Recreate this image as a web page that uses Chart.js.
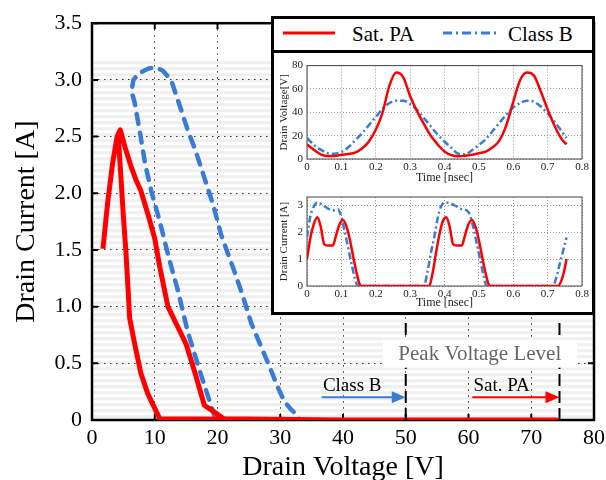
<!DOCTYPE html>
<html>
<head>
<meta charset="utf-8">
<script src="https://cdn.jsdelivr.net/npm/chart.js@4.4.1/dist/chart.umd.min.js"></script>
<style>
html, body { margin: 0; padding: 0; background: #fff; }
#wrap { position: relative; width: 606px; height: 480px; overflow: hidden; font-family: "Liberation Serif", serif; }
#main { position: absolute; left: 0; top: 0; }
#inset { position: absolute; left: 271px; top: 16px; width: 324px; height: 299px; box-sizing: border-box; border: 3px solid #000; background: #fff; }
#divider { position: absolute; left: 0; top: 31px; width: 100%; height: 3px; background: #000; }
.lg { position: absolute; top: 2px; font-size: 21px; line-height: 26px; color: #000; }
#legendLines { position: absolute; left: 0; top: 0; }
#vChart { position: absolute; left: 1px; top: 36px; }
#iChart { position: absolute; left: 1px; top: 166px; }
</style>
</head>
<body>
<div id="wrap">
  <canvas id="main" width="606" height="480"></canvas>
  <div id="inset">
    <svg id="legendLines" width="318" height="30">
      <line x1="9" y1="14" x2="61" y2="14" stroke="#ff0000" stroke-width="3"/>
      <line x1="169" y1="14" x2="223" y2="14" stroke="#3a7bd5" stroke-width="3" stroke-dasharray="9,4,2,4"/>
    </svg>
    <span class="lg" style="left:78px">Sat. PA</span>
    <span class="lg" style="left:234px">Class B</span>
    <div id="divider"></div>
    <canvas id="vChart" width="318" height="130"></canvas>
    <canvas id="iChart" width="318" height="127"></canvas>
  </div>
</div>
<script>
// main plot: dynamic load lines (drain current vs drain voltage)
var satV = [1.75, 2.5, 3.3, 4.0, 4.5, 5.3, 6.2, 7.0, 7.8, 9.0, 10.0, 10.8, 12.1, 13.5, 15.0, 16.5, 17.9, 19.5, 21.0, 40, 74.0, 40, 10.8, 8.9, 7.8, 6.8, 6.0, 5.7, 5.4, 5.0, 4.6, 4.2];
var satI = [1.51, 1.92, 2.27, 2.5, 2.56, 2.4, 2.24, 2.12, 2.02, 1.8, 1.6, 1.35, 1.0, 0.84, 0.67, 0.4, 0.13, 0.07, 0.01, 0, 0, 0, 0.01, 0.23, 0.41, 0.67, 0.9, 1.2, 1.49, 1.8, 2.15, 2.5];
var classBV = [19.6, 17.3, 15.2, 13.7, 12.3, 10.8, 9.5, 8.5, 7.6, 6.8, 6.3, 6.6, 7.5, 9.0, 10.2, 11.3, 12.6, 14.0, 15.3, 16.6, 18.0, 19.3, 20.6, 22.5, 24.0, 25.4, 27.0, 28.3, 29.6, 30.6, 31.6, 32.5, 33.2];
var classBI = [0.02, 0.41, 0.79, 1.14, 1.42, 1.75, 2.01, 2.25, 2.55, 2.8, 2.9, 3.0, 3.06, 3.1, 3.11, 3.08, 3.0, 2.77, 2.55, 2.36, 2.12, 1.9, 1.63, 1.34, 1.1, 0.85, 0.64, 0.47, 0.29, 0.17, 0.1, 0.05, 0.0];

var peakVoltage = [50, 74.5];   // Class B, Sat. PA

// inset: drain voltage vs time
var voltTime = [0, 0.02, 0.04, 0.06, 0.08, 0.10, 0.12, 0.14, 0.16, 0.18, 0.20, 0.22, 0.24, 0.26, 0.28, 0.30, 0.32, 0.34, 0.36, 0.38, 0.40, 0.42, 0.44, 0.46, 0.48, 0.50, 0.52, 0.54, 0.56, 0.58, 0.60, 0.62, 0.64, 0.66, 0.68, 0.70, 0.72, 0.74, 0.755];
var satVoltage = [12.5, 8, 4, 2.5, 2.5, 3.6, 4.3, 5.5, 9, 15, 25, 40, 63, 74, 70, 54, 41, 30, 20, 12.5, 6.4, 3.3, 2.3, 2.8, 3.6, 5, 6.4, 10, 16, 29, 49, 67.5, 74, 71.5, 58, 42.5, 28.5, 17.5, 12.5];
var classBVoltage = [18, 12, 8, 5, 4.5, 6, 10, 16, 22, 29, 36, 43, 48, 50, 50, 47, 42, 35, 28, 21, 15, 9.5, 4.5, 4, 7.5, 12, 17, 24, 31, 38, 44, 48, 50, 49, 45, 39, 32, 24, 18];

// inset: drain current vs time
var satCurTime = [0, 0.01, 0.02, 0.03, 0.04, 0.05, 0.06, 0.075, 0.085, 0.095, 0.105, 0.115, 0.125, 0.135, 0.145, 0.152, 0.158, 0.355, 0.365, 0.375, 0.385, 0.395, 0.405, 0.415, 0.425, 0.435, 0.45, 0.46, 0.47, 0.48, 0.49, 0.5, 0.51, 0.52, 0.527, 0.533, 0.73, 0.74, 0.748, 0.755];
var satCurrent = [1.0, 1.8, 2.3, 2.55, 2.2, 1.55, 1.5, 1.5, 1.9, 2.3, 2.45, 2.2, 1.7, 1.05, 0.45, 0.1, 0, 0, 0.45, 1.2, 1.9, 2.4, 2.55, 2.2, 1.55, 1.5, 1.5, 1.9, 2.3, 2.45, 2.2, 1.7, 1.05, 0.45, 0.1, 0, 0, 0.2, 0.55, 1.0];
var classBCurTime = [0, 0.01, 0.02, 0.03, 0.045, 0.06, 0.075, 0.09, 0.1, 0.11, 0.12, 0.13, 0.14, 0.148, 0.34, 0.35, 0.36, 0.37, 0.38, 0.39, 0.405, 0.42, 0.435, 0.45, 0.465, 0.475, 0.485, 0.495, 0.505, 0.515, 0.522, 0.715, 0.725, 0.735, 0.745, 0.755];
var classBCurrent = [1.8, 2.6, 2.95, 3.1, 3.0, 2.88, 2.8, 2.85, 2.55, 2.0, 1.4, 0.8, 0.25, 0, 0, 0.5, 1.2, 1.8, 2.5, 2.95, 3.1, 3.05, 2.95, 2.85, 2.8, 2.6, 2.1, 1.5, 0.9, 0.3, 0, 0, 0.3, 0.8, 1.3, 1.8];

var RED = '#ff0000';
var BLUE = '#3a7bd5';
var SERIF = '"Liberation Serif", "Times New Roman", serif';

function pts(xs, ys) {
    return xs.map(function (x, i) { return { x: x, y: ys[i] }; });
}

// keep the plot box where we want it, no extra room for edge labels
function fixX(h) {
    return function (s) { s.height = h; s.paddingLeft = 0; s.paddingRight = 0; };
}

function framePlugin(lw, color, tickLen) {
    return {
        id: 'frame',
        beforeDatasetsDraw: function (chart) {
            var ctx = chart.ctx, a = chart.chartArea, sx = chart.scales.x, sy = chart.scales.y;
            ctx.save();
            ctx.strokeStyle = color;
            ctx.lineWidth = lw;
            ctx.strokeRect(a.left, a.top, a.right - a.left, a.bottom - a.top);
            if (tickLen) {
                ctx.lineWidth = Math.max(1, lw - 0.5);
                ctx.beginPath();
                sx.ticks.forEach(function (t) {
                    var px = sx.getPixelForValue(t.value);
                    ctx.moveTo(px, a.bottom); ctx.lineTo(px, a.bottom - tickLen);
                    ctx.moveTo(px, a.top); ctx.lineTo(px, a.top + tickLen);
                });
                sy.ticks.forEach(function (t) {
                    var py = sy.getPixelForValue(t.value);
                    ctx.moveTo(a.left, py); ctx.lineTo(a.left + tickLen, py);
                    ctx.moveTo(a.right, py); ctx.lineTo(a.right - tickLen, py);
                });
                ctx.stroke();
            }
            ctx.restore();
        }
    };
}

// faint striped background of the main plot
var stripes = {
    id: 'stripes',
    beforeDraw: function (chart) {
        var ctx = chart.ctx, a = chart.chartArea;
        ctx.save();
        ctx.fillStyle = '#efefef';
        for (var y = a.top + 38; y < a.bottom; y += 6) {
            ctx.fillRect(a.left, y, a.right - a.left, 3);
        }
        ctx.restore();
    }
};

function arrow(ctx, x1, x2, y, color) {
    ctx.strokeStyle = color;
    ctx.fillStyle = color;
    ctx.lineWidth = 2;
    ctx.beginPath();
    ctx.moveTo(x1, y); ctx.lineTo(x2 - 12, y);
    ctx.stroke();
    ctx.beginPath();
    ctx.moveTo(x2, y); ctx.lineTo(x2 - 14, y - 6); ctx.lineTo(x2 - 14, y + 6);
    ctx.closePath();
    ctx.fill();
}

var peakNotes = {
    id: 'peakNotes',
    afterDatasetsDraw: function (chart) {
        var ctx = chart.ctx, sx = chart.scales.x, sy = chart.scales.y;
        ctx.save();
        // peak voltage marks
        ctx.strokeStyle = '#000';
        ctx.lineWidth = 2;
        ctx.setLineDash([12, 5]);
        peakVoltage.forEach(function (v) {
            var px = sx.getPixelForValue(v);
            ctx.beginPath();
            ctx.moveTo(px, sy.getPixelForValue(0));
            ctx.lineTo(px, sy.getPixelForValue(0.9));
            ctx.stroke();
        });
        ctx.setLineDash([]);

        // label box
        ctx.fillStyle = '#fff';
        var cx = sx.getPixelForValue(61.8), cy = sy.getPixelForValue(0.585);
        ctx.fillRect(cx - 97, cy - 14, 194, 28);
        ctx.font = '21px ' + SERIF;
        ctx.fillStyle = '#666';
        ctx.textAlign = 'center';
        ctx.textBaseline = 'middle';
        ctx.fillText('Peak Voltage Level', cx, cy + 1);

        // arrows
        var ay = sy.getPixelForValue(0.2);
        arrow(ctx, sx.getPixelForValue(36.6), sx.getPixelForValue(peakVoltage[0]), ay, BLUE);
        arrow(ctx, sx.getPixelForValue(60.6), sx.getPixelForValue(peakVoltage[1]), ay, RED);
        ctx.font = '19px ' + SERIF;
        ctx.fillStyle = '#000';
        ctx.textAlign = 'left';
        ctx.textBaseline = 'middle';
        ctx.fillText('Class B', sx.getPixelForValue(36.8), sy.getPixelForValue(0.3));
        ctx.fillText('Sat. PA', sx.getPixelForValue(60.8), sy.getPixelForValue(0.3));
        ctx.restore();
    }
};

new Chart(document.getElementById('main').getContext('2d'), {
    type: 'scatter',
    data: {
        datasets: [
            {
                label: 'Sat. PA',
                data: pts(satV, satI),
                showLine: true,
                borderColor: RED,
                borderWidth: 5,
                borderJoinStyle: 'round',
                pointRadius: 0,
                tension: 0
            },
            {
                label: 'Class B',
                data: pts(classBV, classBI),
                showLine: true,
                borderColor: BLUE,
                borderWidth: 4.5,
                borderDash: [10, 9],
                borderCapStyle: 'round',
                borderJoinStyle: 'round',
                pointRadius: 0,
                tension: 0
            }
        ]
    },
    options: {
        responsive: false,
        animation: false,
        layout: { padding: { top: 18, right: 12, left: 0, bottom: 0 } },
        plugins: { legend: { display: false }, tooltip: { enabled: false } },
        scales: {
            x: {
                type: 'linear',
                min: 0,
                max: 80,
                afterFit: fixX(60),
                ticks: { stepSize: 10, padding: 5, color: '#000', font: { family: SERIF, size: 22 } },
                grid: { color: '#333', lineWidth: 1, drawTicks: false },
                border: { display: false, dash: [1.5, 4.5] },
                title: { display: true, text: 'Drain Voltage [V]', color: '#000', font: { family: SERIF, size: 28 }, padding: { top: 0, bottom: -4 } }
            },
            y: {
                min: 0,
                max: 3.5,
                afterFit: function (s) { s.width = 92; },
                ticks: {
                    stepSize: 0.5,
                    padding: 10,
                    color: '#000',
                    font: { family: SERIF, size: 22 },
                    callback: function (v) { return v === 0 ? '0' : v.toFixed(1); }
                },
                grid: { color: '#333', lineWidth: 1, drawTicks: false },
                border: { display: false, dash: [1.5, 4.5] },
                title: { display: true, text: 'Drain Current [A]', color: '#000', font: { family: SERIF, size: 28 }, padding: { top: 10, bottom: 0 } }
            }
        }
    },
    plugins: [stripes, framePlugin(2.5, '#000', 6), peakNotes]
});

function insetChart(id, satData, classBData, yMax, yStep, yTitle, padTop, titlePad) {
    return new Chart(document.getElementById(id).getContext('2d'), {
        type: 'scatter',
        data: {
            datasets: [
                {
                    label: 'Sat. PA',
                    data: satData,
                    showLine: true,
                    borderColor: RED,
                    borderWidth: 2.5,
                    pointRadius: 0,
                    cubicInterpolationMode: 'monotone'
                },
                {
                    label: 'Class B',
                    data: classBData,
                    showLine: true,
                    borderColor: BLUE,
                    borderWidth: 2.5,
                    borderDash: [7, 3, 2, 3],
                    pointRadius: 0,
                    cubicInterpolationMode: 'monotone'
                }
            ]
        },
        options: {
            responsive: false,
            animation: false,
            layout: { padding: { top: padTop, right: 11, left: 0, bottom: 0 } },
            plugins: { legend: { display: false }, tooltip: { enabled: false } },
            scales: {
                x: {
                    type: 'linear',
                    min: 0,
                    max: 0.8,
                    afterFit: fixX(26),
                    ticks: {
                        stepSize: 0.1,
                        padding: 2,
                        color: '#222',
                        font: { family: SERIF, size: 11 },
                        callback: function (v) { return v === 0 ? '0' : v.toFixed(1); }
                    },
                    grid: { color: '#999', lineWidth: 1, drawTicks: false },
                    border: { display: false, dash: [1, 2] },
                    title: { display: true, text: 'Time [nsec]', color: '#222', font: { family: SERIF, size: 12 }, padding: { top: 0, bottom: titlePad } }
                },
                y: {
                    min: 0,
                    max: yMax,
                    afterFit: function (s) { s.width = 32; },
                    ticks: {
                        stepSize: yStep,
                        includeBounds: false,
                        padding: 4,
                        color: '#222',
                        font: { family: SERIF, size: 11 }
                    },
                    grid: { color: '#999', lineWidth: 1, drawTicks: false },
                    border: { display: false, dash: [1, 2] },
                    title: { display: true, text: yTitle, color: '#222', font: { family: SERIF, size: 11 }, padding: { top: 3, bottom: 0 } }
                }
            }
        },
        plugins: [framePlugin(1, '#444', 0)]
    });
}

insetChart('vChart', pts(voltTime, satVoltage), pts(voltTime, classBVoltage), 80, 20, 'Drain Voltage[V]', 7, 0);
insetChart('iChart', pts(satCurTime, satCurrent), pts(classBCurTime, classBCurrent), 3.3, 1, 'Drain Current [A]', 12, 2.4);
</script>
</body>
</html>
